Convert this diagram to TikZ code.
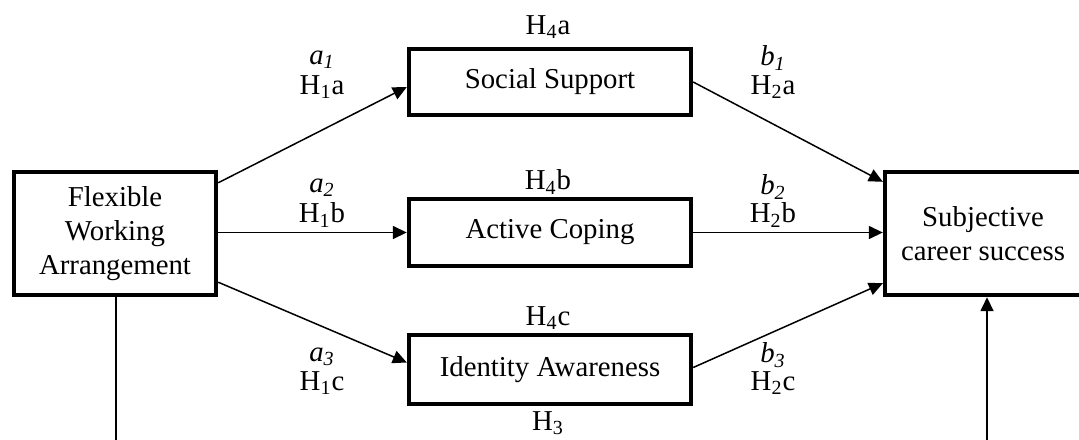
\documentclass[tikz,border=0pt]{standalone}
\usepackage{fontspec}
\setmainfont{Liberation Serif}
\usetikzlibrary{arrows.meta,calc}
\begin{document}
\begin{tikzpicture}[x=0.5pt,y=-0.5pt,
  font=\fontsize{14.4}{17}\selectfont,
  box/.style={draw=black,line width=2.2pt,fill=white,align=center,inner sep=0pt},
  conn/.style={line width=0.75pt,-{Triangle[length=7pt,width=6.5pt]}},
  plain/.style={line width=0.75pt},
  lbl/.style={inner sep=0pt,anchor=center}]
\useasboundingbox (0,0) rectangle (1079,439);
\clip (0,0) rectangle (1079,439);
% boxes
\node[box,minimum width=101pt,minimum height=61.5pt] (fwa) at (115,233.5) {Flexible\\Working\\Arrangement};
\node[box,minimum width=141pt,minimum height=33pt] (soc) at (550,82) {Social Support};
\node[box,minimum width=141pt,minimum height=33.5pt] (act) at (550,232.5) {Active Coping};
\node[box,minimum width=141pt,minimum height=34.5pt] (ida) at (550,369.5) {Identity Awareness};
\node[box,minimum width=98pt,minimum height=61.5pt] (scs) at (983,233.5) {Subjective\\career success};
% connectors
\draw[conn] ([yshift=-6.5pt]fwa.north east) -- ([yshift=-2.5pt]soc.west);
\draw[conn] (fwa.east |- act.west) -- (act.west);
\draw[conn] ([yshift=7.5pt]fwa.south east) -- ([yshift=3.5pt]ida.west);
\draw[conn] (soc.east) -- ([yshift=-6pt]scs.north west);
\draw[conn] (act.east) -- (scs.west |- act.east);
\draw[conn] ([yshift=1pt]ida.east) -- ([yshift=7pt]scs.south west);
\coordinate (fwabot) at (116,450);
\draw[plain] (fwa.south -| fwabot) -- (fwabot);
\coordinate (scsbot) at (987,450);
\draw[conn] (scsbot) -- (scsbot |- scs.south);
% labels
\node[lbl] (la1) at (322,60) {\textit{a\textsubscript{1}}};
\node[lbl] (lh1a) at (322,87) {H\textsubscript{1}a};
\node[lbl] (la2) at (322,188) {\textit{a\textsubscript{2}}};
\node[lbl] (lh1b) at (322,215) {H\textsubscript{1}b};
\node[lbl] (la3) at (322,357) {\textit{a\textsubscript{3}}};
\node[lbl] (lh1c) at (322,383) {H\textsubscript{1}c};
\node[lbl] (lb1) at (773,58) {\textit{b\textsubscript{1}}};
\node[lbl] (lh2a) at (773,87) {H\textsubscript{2}a};
\node[lbl] (lb2) at (773,187) {\textit{b\textsubscript{2}}};
\node[lbl] (lh2b) at (773,215) {H\textsubscript{2}b};
\node[lbl] (lb3) at (773,355) {\textit{b\textsubscript{3}}};
\node[lbl] (lh2c) at (773,383) {H\textsubscript{2}c};
\node[lbl] (lh4a) at (548,27) {H\textsubscript{4}a};
\node[lbl] (lh4b) at (548,182) {H\textsubscript{4}b};
\node[lbl] (lh4c) at (548,318) {H\textsubscript{4}c};
\node[lbl] (lh3) at (548,423) {H\textsubscript{3}};
\end{tikzpicture}
\end{document}
